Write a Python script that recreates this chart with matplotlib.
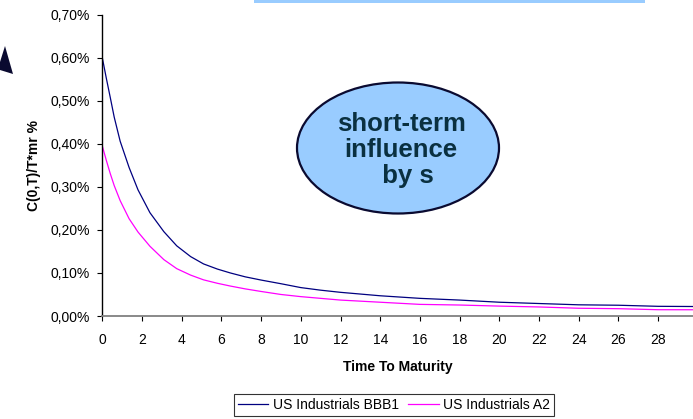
import matplotlib
matplotlib.use("Agg")
import matplotlib.pyplot as plt
from matplotlib.patches import Ellipse, Rectangle, Polygon
from matplotlib.ticker import FuncFormatter, MultipleLocator

plt.rcParams["font.family"] = ["Liberation Sans", "DejaVu Sans"]

# time to maturity (years) and C(0,T)/T*mr in percent
maturity = [0, 0.2, 0.4, 0.6, 0.9, 1.35, 1.8, 2.4, 3.1, 3.75, 4.45, 5.1, 5.8,
            6.45, 7.2, 8, 9, 10, 11, 12, 14, 16, 18, 20, 22, 24, 26, 28, 30]
bbb1 = [0.600, 0.553, 0.508, 0.462, 0.406, 0.345, 0.293, 0.240, 0.196, 0.163,
        0.138, 0.121, 0.109, 0.100, 0.091, 0.0835, 0.075, 0.066, 0.060, 0.055,
        0.047, 0.041, 0.037, 0.032, 0.029, 0.026, 0.025, 0.0225, 0.022]
a2 = [0.395, 0.362, 0.331, 0.303, 0.268, 0.226, 0.195, 0.162, 0.131, 0.110,
      0.095, 0.084, 0.076, 0.0696, 0.063, 0.057, 0.050, 0.045, 0.041, 0.037,
      0.032, 0.027, 0.0255, 0.023, 0.021, 0.018, 0.017, 0.0146, 0.0145]
series_names = ["US Industrials BBB1", "US Industrials A2"]
x_ticks = list(range(0, 30, 2))

W, H = 693, 419
fig = plt.figure(figsize=(W / 100, H / 100), dpi=100)
fig.patch.set_facecolor("white")

# overlay axes in pixel coords for the decorations
deco = fig.add_axes([0, 0, 1, 1], zorder=3)
deco.set_xlim(0, W)
deco.set_ylim(H, 0)
deco.axis("off")
deco.patch.set_alpha(0)

left, right, top, bottom = 102.3, 693, 14.7, 316
ax = fig.add_axes([left / W, 1 - bottom / H, (right - left) / W, (bottom - top) / H])

l1, = ax.plot(maturity, bbb1, color="#000080", lw=0.9)
l2, = ax.plot(maturity, a2, color="#FF00FF", lw=0.9)

ax.set_xlim(0, (right - left) / 39.7 * 2)
ax.set_ylim(0, 0.70)
ax.yaxis.set_major_locator(MultipleLocator(0.1))
ax.yaxis.set_major_formatter(FuncFormatter(lambda v, p: f"{v:.2f}%".replace(".", ",")))
ax.set_xticks(x_ticks)
ax.tick_params(axis="both", labelsize=10, length=3.5, width=0.8, direction="out")
ax.tick_params(axis="y", pad=5.5)
ax.tick_params(axis="x", pad=9)
for s in ["top", "right"]:
    ax.spines[s].set_visible(False)
ax.spines["left"].set_color("black")
ax.spines["left"].set_linewidth(1.0)
ax.spines["bottom"].set_color("#808080")
ax.spines["bottom"].set_linewidth(1.3)

ax.set_xlabel("Time To Maturity", fontsize=10, fontweight="bold", labelpad=9)
ax.set_ylabel("C(0,T)/T*mr %", fontsize=10, fontweight="bold", labelpad=7)

leg = fig.legend([l1, l2], series_names, loc="upper center",
                 bbox_to_anchor=(394 / W, 1 - 394 / H), ncol=2, fontsize=10,
                 frameon=True, fancybox=False, edgecolor="black",
                 handlelength=2.2, handletextpad=0.3, columnspacing=0.7,
                 borderpad=0.3, borderaxespad=0)
leg.get_frame().set_linewidth(0.8)

# ellipse callout
deco.add_patch(Ellipse((398, 148), 202, 131, facecolor="#99CCFF",
                       edgecolor="#0a0a30", lw=1.6))
deco.text(401, 150, "short-term\ninfluence\n  by s", ha="center", va="center",
          fontsize=18.5, fontweight="bold", color="#0a3040", linespacing=1.08)

# strip of a box cut off at top
deco.add_patch(Rectangle((254, 0), 391, 3.2, facecolor="#99CCFF", edgecolor="none"))

# arrow head cut off at left
deco.add_patch(Polygon([(0, 62), (5, 46), (13, 74), (0, 70)], closed=True,
                       facecolor="#0a0a30", edgecolor="none"))

fig.savefig("out.png", dpi=100)
